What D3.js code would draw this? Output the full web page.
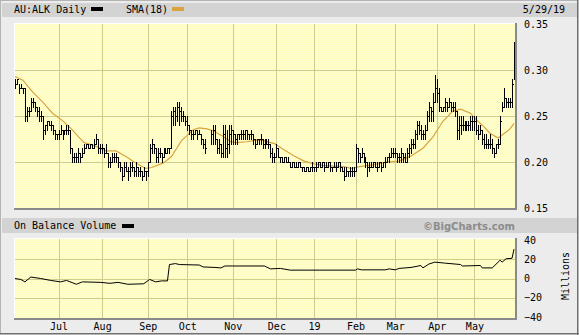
<!DOCTYPE html>
<html>
<head>
<meta charset="utf-8">
<script src="https://cdn.jsdelivr.net/npm/d3@7"></script>
<style>
  html, body { margin: 0; padding: 0; background: #ececec; }
  svg { display: block; }
  text { font-family: 'DejaVu Sans Mono', monospace; font-size: 10px; fill: #000; }
</style>
</head>
<body>
<div id="chart"></div>
<script>
// daily bars, one entry per trading day (30 May 2018 .. 29 May 2019), prices in cents
// null = no trade that day
const high = [
  29, 29, 28.5, 28.5, 28, 28, 26, 26, 27, 27,
  26.5, 26, 26, 25.5, 25, 24, 24.5, 24.5, 24.5, 24,
  23.5, 23, 23.5, 24, 23.5, 23.5, 24, 24, 23.5, 21.5,
  21, 21, 21.5, 21, 21.5, 22, 22, 22, 22, 22,
  22.5, 23, 22.5, 22, 22, 21.5, 22, 21, 20.5, 21,
  21, 21, 20.5, 20, 19.5, 20, 20, 19.5, 20, 20,
  19.5, 20, 19.5, 19.5, 19, 19.5, 19, 20, 22, 22.5,
  22, 21.5, 21.5, 21.5, 21, 21.5, 21.5, 21.5, 21.5, 25.5,
  26, 26, 26.5, 26.5, 26, 25.5, 25, 25, 24, 23.5,
  23.5, 23.5, 23.5, 23.5, 23, 22.5, 22.5, null, null, 23.5,
  24, 24, 22.5, 22.5, 22, 24, 24, 23.5, 24, 24,
  23.5, 23, 23, 23, 23.5, 23.5, 23.5, 23.5, 23, 23.5,
  23, 22.5, 22.5, 22.5, 23, 22.5, 22.5, 22.5, 22.5, 22,
  21.5, 21, 22, 21.5, 20.5, 20.5, 20.5, 20.5, 20.5, 20,
  20, 20, 20, 20, 20, 19.5, 19.5, 19.5, 19.5, 19.5,
  20, 19.5, 20, 20, 20, 20, 20, 20, 20, 20,
  19.5, 20, 20, 20, 20, 19.5, 19.5, 19.5, 19, 19.5,
  19.5, 19.5, 22, 21.5, 21, 21.5, 21, 20.5, 20, 20,
  20, 20, 20, 20, 20, 20, 20, 20.5, 20.5, 21,
  21.5, 21.5, 21.5, 21, 21, 21.5, 21, 21, 21.5, 22,
  22.5, 22.5, 23.5, 24.5, 24.5, 24, 23.5, 24, 25.5, 26.5,
  26, 27.5, 29.5, 29, 28, 26, 26, 27, 26.5, 27,
  26.5, 26.5, 26.5, 25.5, 25, 25, 25, 24.5, 24.5, 24.5,
  25, 25, 25, 25, 24, 24, 23.5, 23, 23, 22.5,
  23, 22.5, 21.5, 22, 22.5, 25, 26.5, 28, 27, 27,
  27, 29, 33
];
const low = [
  28, 28.5, 27.5, 28, 27.5, 24.5, 24.5, 25, 25.5, 26,
  25.5, 25, 24.5, 24.5, 22.5, 23, 23.5, 24, 23.5, 23,
  22.5, 22.5, 22.5, 23, 22.5, 23, 23, 23, 21, 20,
  20, 20, 20, 20, 20.5, 21, 21.5, 21.5, 21.5, 21.5,
  21.5, 22, 21, 21, 21, 20.5, 21, 19.5, 19.5, 20,
  20, 20, 19.5, 19, 18, 18.5, 19, 18, 18.5, 19,
  18.5, 18.5, 18.5, 18.5, 18, 18.5, 18, 18.5, 20, 21,
  21, 20, 20, 20.5, 20, 20.5, 21, 21, 21, 21.5,
  24, 24, 24.5, 24, 24.5, 24.5, 24, 23.5, 23, 22.5,
  22.5, 23, 22.5, 23, 22, 21.5, 21, null, null, 22,
  22, 22, 21, 21, 20.5, 20.5, 20.5, 20.5, 21, 22,
  22, 22, 22, 22.5, 22.5, 22.5, 22.5, 22.5, 22.5, 22.5,
  22, 21.5, 22, 22, 22, 21.5, 21.5, 22, 21.5, 20.5,
  20, 20, 20.5, 20.5, 20, 20, 20, 20, 20, 19.5,
  19.5, 19.5, 19.5, 19.5, 19.5, 19, 19, 19, 19, 19,
  19, 19, 19, 19.5, 19.5, 19.5, 19, 19.5, 19.5, 19,
  19, 19.5, 19, 19.5, 19, 19, 18, 18.5, 18.5, 18.5,
  18.5, 18.5, 19, 20, 20, 20.5, 20, 19.5, 18.5, 19,
  19.5, 19.5, 19.5, 19, 19.5, 19, 19.5, 19.5, 20, 20,
  20.5, 20.5, 20.5, 20, 20, 20, 20, 20, 20, 20.5,
  21, 21.5, 21.5, 22.5, 23, 22.5, 22.5, 22.5, 23.5, 24.5,
  24.5, 24.5, 26.5, 26.5, 25.5, 25.5, 25.5, 25.5, 25.5, 26,
  25.5, 25.5, 25, 22.5, 22.5, 23, 23.5, 23.5, 23.5, 23.5,
  23.5, 23.5, 23.5, 23, 22.5, 23, 22, 21.5, 21.5, 21.5,
  21.5, 21, 20.5, 21, 21.5, 22, 25.5, 26, 26, 26,
  26, 26, 29
];
const close = [
  28.5, 29, 28, 28, 28, 25, 25.5, 25.5, 26.5, 26.5,
  26, 25.5, 25, 25, 23.5, 24, 24.5, 24, 24, 23.5,
  23, 23, 23, 23.5, 23, 23.5, 23.5, 23.5, 21.5, 20.5,
  20.5, 20.5, 21, 20.5, 21, 21.5, 22, 21.5, 22, 21.5,
  22, 22.5, 21.5, 21.5, 21.5, 21, 21, 20, 20, 20.5,
  20.5, 20.5, 20, 19.5, 18.5, 19.5, 19, 19, 19.5, 19.5,
  19, 19.5, 19, 19, 18.5, 19, 19, 20, 21.5, 22,
  21.5, 20.5, 21, 21, 20.5, 21, 21, 21.5, 21.5, 25,
  25.5, 25, 26, 25.5, 25, 25, 24.5, 24, 23.5, 23,
  23, 23.5, 23, 23, 22.5, 22, 21.5, null, null, 23,
  23.5, 22.5, 21.5, 22, 21, 23, 21.5, 22, 23, 23.5,
  23, 22.5, 23, 23, 23, 23, 23.5, 23, 23, 23,
  22.5, 22, 22.5, 22.5, 22.5, 22, 22, 22, 22, 21,
  20.5, 20.5, 21.5, 20.5, 20.5, 20, 20.5, 20, 20, 19.5,
  20, 19.5, 19.5, 20, 19.5, 19.5, 19, 19.5, 19, 19.5,
  19.5, 19.5, 19.5, 20, 19.5, 20, 19.5, 19.5, 20, 19.5,
  19.5, 19.5, 19.5, 20, 19.5, 19, 18.5, 19, 19, 19,
  19, 19, 21.5, 21, 20.5, 21, 20.5, 20, 19.5, 19.5,
  19.5, 20, 19.5, 19.5, 20, 19.5, 20, 20, 20.5, 20.5,
  21, 21, 21, 20.5, 20.5, 21, 20.5, 20, 21, 21.5,
  22, 22, 23, 24, 23.5, 23, 23, 23.5, 25, 26,
  25.5, 26.5, 28, 27.5, 26, 25.5, 26, 26.5, 26, 26.5,
  26, 26, 25.5, 23.5, 24, 24, 24, 24, 24, 24,
  24.5, 24.5, 24.5, 23.5, 23, 23.5, 22.5, 22, 22, 22,
  22, 21.5, 21, 22, 22, 24.5, 26, 27, 26.5, 26.5,
  26.5, 28.5, 32
];

// SMA(18) at these trading-day positions (cents)
const smaDays = [0, 4, 9, 14, 19, 24, 28, 32, 35, 41, 46, 51, 56, 61, 66, 69, 75, 79, 82, 84, 87, 90, 93, 97, 100, 105, 109, 112, 117, 122, 126, 131, 136, 141, 146, 151, 156, 161, 166, 170, 174, 181, 188, 194, 200, 206, 211, 216, 221, 225, 230, 233, 236, 240, 244, 247, 250, 252];
const smaValues = [29.3, 28.9, 27.6, 26.5, 25.3, 24.5, 23.7, 22.75, 22.1, 21.7, 21.2, 21.2, 20.6, 19.9, 19.3, 19.4, 19.9, 20.6, 21.6, 22.3, 22.9, 23.5, 23.7, 23.6, 23.4, 22.8, 22.2, 22.1, 22.2, 22.4, 22.3, 22.0, 21.3, 20.65, 20.1, 19.8, 19.6, 19.55, 19.5, 19.3, 19.5, 19.7, 20.0, 20.1, 20.65, 21.5, 22.7, 24.4, 25.5, 25.75, 25.3, 24.6, 24.0, 23.1, 22.6, 23.1, 23.6, 24.2];

// On Balance Volume, millions
const obvDays = [0, 3, 5, 8, 13, 18, 23, 26, 31, 34, 43, 48, 52, 57, 65, 68, 71, 74, 77, 78, 81, 83, 93, 95, 101, 104, 106, 110, 126, 129, 134, 139, 172, 173, 175, 187, 189, 192, 194, 200, 205, 206, 209, 212, 217, 225, 226, 235, 236, 241, 245, 246, 248, 251, 252];
const obvValues = [0, -1, -3.5, 1.5, 0, -2, -3.5, -2, -6, -3.5, -4, -5, -4, -6, -5.5, -1, -3.5, -2.5, -2.5, 14.5, 15.5, 14.5, 14, 12, 11.5, 11, 13, 13, 13, 10, 10.5, 8.7, 8.7, 10, 9, 9, 10, 9, 10.5, 11.5, 13.5, 11, 15, 17, 16, 14.5, 13, 13.5, 11, 11, 19, 17, 20.5, 21, 30.5];

// axis labels
const monthTickDays = [22, 44, 67, 87, 110, 132, 151, 172, 192, 213, 232];
const monthLabels = ['Jul', 'Aug', 'Sep', 'Oct', 'Nov', 'Dec', '19', 'Feb', 'Mar', 'Apr', 'May'];
const priceTicks = [15, 20, 25, 30, 35];
const obvTicks = [-40, -20, 0, 20, 40];

const W = 579;
const H = 335;
const plotLeft = 14;
const plotRight = 515;
const pricePanel = { top: 23, bottom: 208 };
const obvPanel = { top: 238, bottom: 318 };
const gridColor = '#cfcc8e';
const smaColor = '#d9a43e';

const svg = d3.select('#chart').append('svg')
  .attr('width', W)
  .attr('height', H);

// pale yellow dither used by the plot areas
const defs = svg.append('defs');
const pat = defs.append('pattern')
  .attr('id', 'dither')
  .attr('width', 2).attr('height', 2)
  .attr('patternUnits', 'userSpaceOnUse');
pat.append('rect').attr('width', 2).attr('height', 2).attr('fill', '#ffffd2');
pat.append('rect').attr('width', 1).attr('height', 1).attr('fill', '#fbfbbe');
pat.append('rect').attr('x', 1).attr('y', 1).attr('width', 1).attr('height', 1).attr('fill', '#fbfbbe');

// frame + header strips
svg.append('rect').attr('x', 0.5).attr('y', 0.5).attr('width', W - 1).attr('height', H - 1)
  .attr('fill', '#ececec').attr('stroke', '#b4b4b4');
svg.append('line').attr('x1', 0).attr('x2', W).attr('y1', H - 1.5).attr('y2', H - 1.5)
  .attr('stroke', '#707070');
svg.append('line').attr('x1', W - 1.5).attr('x2', W - 1.5).attr('y1', 0).attr('y2', H)
  .attr('stroke', '#707070');
svg.append('rect').attr('x', 2).attr('y', 3).attr('width', W - 4).attr('height', 14).attr('fill', '#d3d3d3');
svg.append('rect').attr('x', 2).attr('y', 218).attr('width', W - 4).attr('height', 15).attr('fill', '#d3d3d3');

const x = d3.scaleLinear().domain([-0.5, 252.5]).range([plotLeft, plotRight]);
const yPrice = d3.scaleLinear().domain([15, 35]).range([pricePanel.bottom, 24]);
const yObv = d3.scaleLinear().domain([-40, 40]).range([317, 240]);

// crisp pixel helpers
const px = v => Math.round(v) + 0.5;

function panel(p) {
  const g = svg.append('g');
  g.append('rect')
    .attr('x', plotLeft).attr('y', p.top)
    .attr('width', plotRight - plotLeft).attr('height', p.bottom - p.top)
    .attr('fill', 'url(#dither)');
  return g;
}

function panelEdges(p) {
  // white highlight top/left, grey shadow bottom/right
  const g = svg.append('g').attr('shape-rendering', 'crispEdges');
  g.append('path')
    .attr('d', `M${plotLeft + 0.5},${p.bottom}V${p.top + 0.5}H${plotRight}`)
    .attr('fill', 'none').attr('stroke', '#ffffff');
  g.append('path')
    .attr('d', `M${plotLeft},${p.bottom + 0.5}H${plotRight + 1}V${p.top}`)
    .attr('fill', 'none').attr('stroke', '#8a8a8a').attr('stroke-width', 2);
}

// ---------- price panel ----------
const pg = panel(pricePanel);
const pgrid = pg.append('g').attr('stroke', gridColor).attr('shape-rendering', 'crispEdges');
pgrid.selectAll('line.v').data(monthTickDays).join('line')
  .attr('class', 'v')
  .attr('x1', d => px(x(d))).attr('x2', d => px(x(d)))
  .attr('y1', pricePanel.top).attr('y2', pricePanel.bottom);
pgrid.selectAll('line.h').data(priceTicks.slice(1, -1)).join('line')
  .attr('class', 'h')
  .attr('x1', plotLeft).attr('x2', plotRight)
  .attr('y1', d => px(yPrice(d))).attr('y2', d => px(yPrice(d)));

// SMA(18)
const smaPts = smaDays.map((d, i) => [x(d), yPrice(smaValues[i])]);
pg.append('path')
  .attr('d', d3.line()(smaPts))
  .attr('fill', 'none')
  .attr('stroke', smaColor)
  .attr('stroke-width', 1.2);

// HLC bars
const bars = d3.range(high.length).filter(i => high[i] !== null);
pg.append('g')
  .attr('stroke', '#000')
  .attr('shape-rendering', 'crispEdges')
  .selectAll('path')
  .data(bars)
  .join('path')
  .attr('fill', 'none')
  .attr('d', (i) => {
    const bx = px(x(i));
    const yh = Math.round(yPrice(high[i]));
    let yl = Math.round(yPrice(low[i]));
    if (yl <= yh) yl = yh + 1;
    const yc = px(yPrice(close[i]));
    return `M${bx},${yh}V${yl + 1}M${bx - 0.5},${yc}H${bx + 1.5}`;
  });

panelEdges(pricePanel);

// price labels on the right
svg.append('g')
  .attr('transform', `translate(${plotRight},0)`)
  .call(d3.axisRight(yPrice).tickValues(priceTicks).tickSize(0).tickPadding(9)
    .tickFormat(d => (d / 100).toFixed(2)))
  .call(g => g.select('.domain').remove())
  .selectAll('text')
  .attr('font-family', 'DejaVu Sans Mono')
  .attr('font-size', 10)
  .attr('fill', '#000');

// ---------- OBV panel ----------
const og = panel(obvPanel);
const ogrid = og.append('g').attr('stroke', gridColor).attr('shape-rendering', 'crispEdges');
ogrid.selectAll('line.v').data(monthTickDays).join('line')
  .attr('class', 'v')
  .attr('x1', d => px(x(d))).attr('x2', d => px(x(d)))
  .attr('y1', obvPanel.top).attr('y2', obvPanel.bottom);
ogrid.selectAll('line.h').data(obvTicks.slice(1, -1)).join('line')
  .attr('class', 'h')
  .attr('x1', plotLeft).attr('x2', plotRight)
  .attr('y1', d => px(yObv(d))).attr('y2', d => px(yObv(d)));

og.append('path')
  .attr('d', d3.line().x((d, i) => x(obvDays[i])).y(d => yObv(d))(obvValues))
  .attr('fill', 'none')
  .attr('stroke', '#000')
  .attr('stroke-width', 1);

panelEdges(obvPanel);

svg.append('g')
  .attr('transform', `translate(${plotRight},0)`)
  .call(d3.axisRight(yObv).tickValues(obvTicks).tickSize(0).tickPadding(9))
  .call(g => g.select('.domain').remove())
  .selectAll('text')
  .attr('font-family', 'DejaVu Sans Mono')
  .attr('font-size', 10)
  .attr('fill', '#000');

svg.append('text')
  .attr('transform', 'translate(569,276) rotate(-90)')
  .attr('text-anchor', 'middle')
  .text('Millions');

// month labels under the OBV panel
svg.append('g')
  .attr('transform', `translate(0,${obvPanel.bottom})`)
  .call(d3.axisBottom(x).tickValues(monthTickDays).tickSize(0).tickPadding(5)
    .tickFormat((d, i) => monthLabels[i]))
  .call(g => g.select('.domain').remove())
  .selectAll('text')
  .attr('font-family', 'DejaVu Sans Mono')
  .attr('font-size', 10)
  .attr('fill', '#000');

// ---------- headers / legends ----------
svg.append('text').attr('x', 14).attr('y', 13).text('AU:ALK Daily');
svg.append('rect').attr('x', 91).attr('y', 7).attr('width', 12).attr('height', 4).attr('fill', '#000');
svg.append('text').attr('x', 126).attr('y', 13).text('SMA(18)');
svg.append('rect').attr('x', 172).attr('y', 7).attr('width', 12).attr('height', 4).attr('fill', smaColor);
svg.append('text').attr('x', 565).attr('y', 13).attr('text-anchor', 'end').text('5/29/19');

svg.append('text').attr('x', 14).attr('y', 229).text('On Balance Volume');
svg.append('rect').attr('x', 122).attr('y', 224).attr('width', 12).attr('height', 4).attr('fill', '#000');
svg.append('text').attr('x', 515).attr('y', 230).attr('text-anchor', 'end')
  .attr('font-weight', 'bold').attr('font-size', 11).attr('fill', '#8c8c8c')
  .style('font-family', 'DejaVu Sans')
  .style('fill', '#8c8c8c')
  .text('©BigCharts.com');
</script>
</body>
</html>
